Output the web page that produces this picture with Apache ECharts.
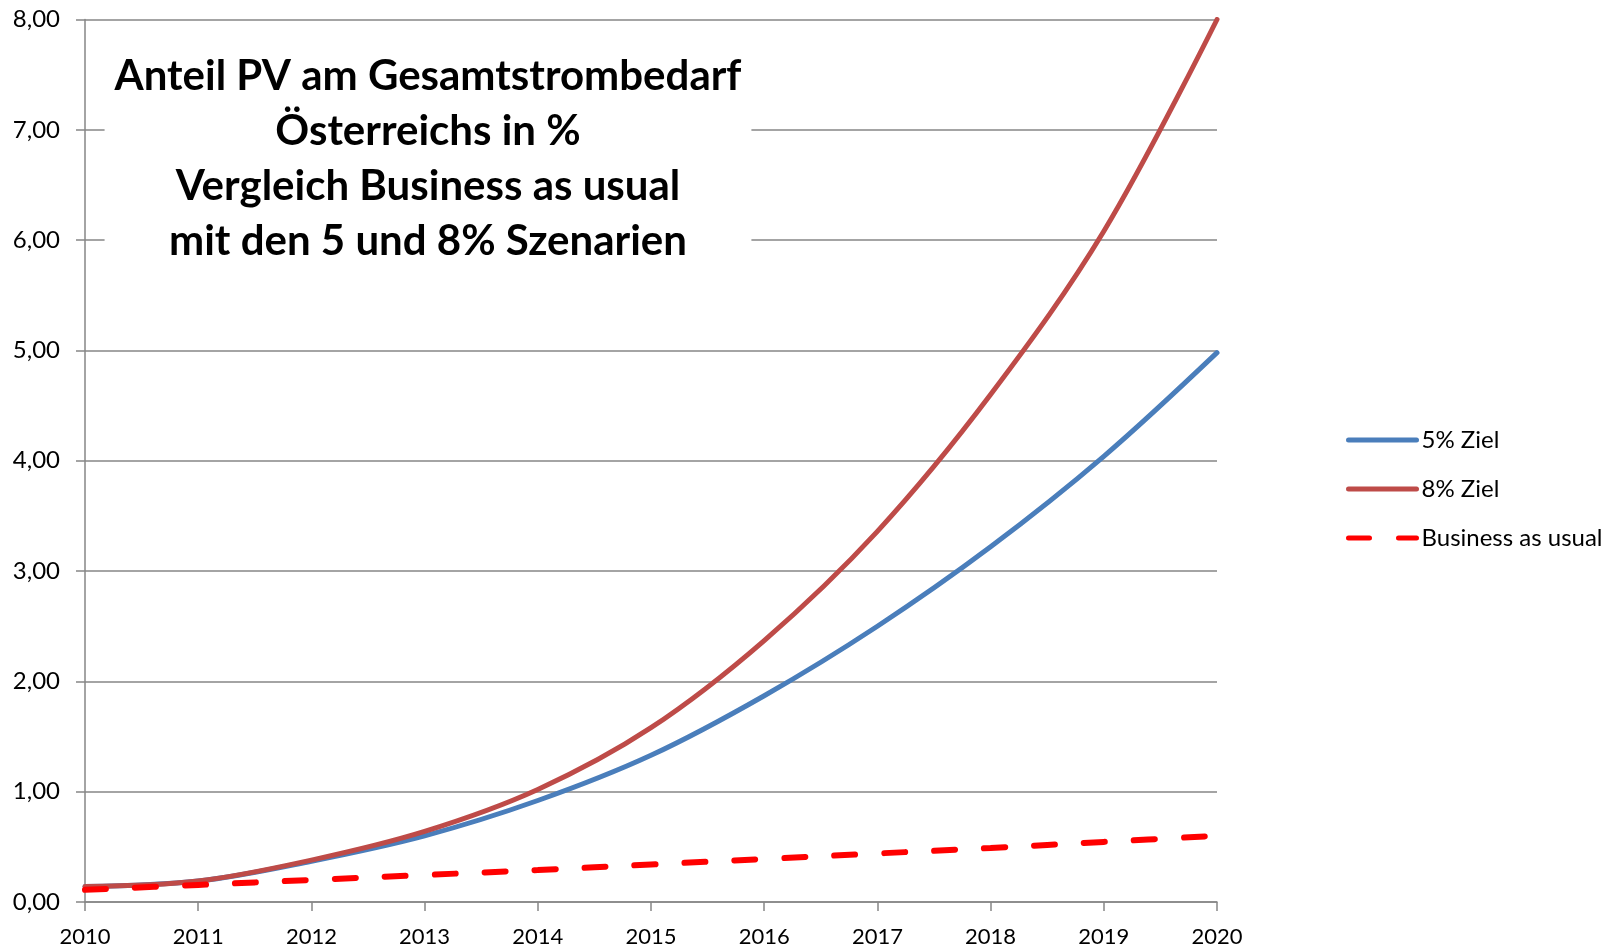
<!DOCTYPE html>
<html>
<head>
<meta charset="utf-8">
<script src="https://cdn.jsdelivr.net/npm/echarts@6/dist/echarts.min.js"></script>
<style>html,body{margin:0;padding:0;background:#fff}#c{width:1622px;height:952px}</style>
</head>
<body>
<div id="c"></div>
<script>
const years = ['2010','2011','2012','2013','2014','2015','2016','2017','2018','2019','2020'];
const ziel5 = [0.14, 0.19, 0.37, 0.60, 0.92, 1.33, 1.87, 2.50, 3.22, 4.04, 4.98];
const ziel8 = [0.14, 0.19, 0.38, 0.64, 1.02, 1.58, 2.37, 3.36, 4.60, 6.08, 8.00];
const bau   = [0.11, 0.155, 0.20, 0.245, 0.29, 0.34, 0.39, 0.44, 0.49, 0.545, 0.60];
const titleLines = ['Anteil PV am Gesamtstrombedarf', 'Österreichs in %', 'Vergleich Business as usual', 'mit den 5 und 8% Szenarien'];
const seriesNames = ['5% Ziel', '8% Ziel', 'Business as usual'];

const font = 'Lato, "Open Sans", sans-serif';
const chart = echarts.init(document.getElementById('c'));
chart.setOption({
  animation: false,
  backgroundColor: '#fff',
  title: {
    text: titleLines.join('\n'),
    left: 418, top: 43, textAlign: 'center',
    padding: [6, 10], backgroundColor: '#fff',
    textStyle: { fontFamily: font, fontSize: 42, fontWeight: 'bold', color: '#000', lineHeight: 55 }
  },
  legend: {
    orient: 'vertical', left: 1341, top: 423,
    itemWidth: 68, itemHeight: 20, itemGap: 25,
    itemStyle: { opacity: 0 },
    lineStyle: { width: 5 },
    textStyle: { fontFamily: font, fontSize: 24, color: '#000', padding: [0, 0, 0, 0] },
    data: seriesNames
  },
  grid: { left: 85, right: 405, top: 19.5, bottom: 50, containLabel: false },
  xAxis: {
    type: 'category', data: years, boundaryGap: false,
    axisLine: { lineStyle: { color: '#868686', width: 1.5 } },
    axisTick: { length: 9, lineStyle: { color: '#868686', width: 1.5 } },
    axisLabel: { fontFamily: font, fontSize: 22, color: '#000', margin: 24 },
    splitLine: { show: false }
  },
  yAxis: {
    type: 'value', min: 0, max: 8, interval: 1,
    axisLine: { show: true, lineStyle: { color: '#868686', width: 1.5 } },
    axisTick: { show: true, length: 9, lineStyle: { color: '#868686', width: 1.5 } },
    axisLabel: { fontFamily: font, fontSize: 24, color: '#000', margin: 25,
      formatter: v => v.toFixed(2).replace('.', ',') },
    splitLine: { lineStyle: { color: '#868686', width: 1.5 } }
  },
  series: [
    { name: seriesNames[0], type: 'line', data: ziel5, smooth: 0.35, symbol: 'none',
      lineStyle: { color: '#4A7EBB', width: 5, cap: 'round' }, itemStyle: { color: '#4A7EBB' }, z: 3 },
    { name: seriesNames[1], type: 'line', data: ziel8, smooth: 0.35, symbol: 'none',
      lineStyle: { color: '#BE4B48', width: 5, cap: 'round' }, itemStyle: { color: '#BE4B48' }, z: 4 },
    { name: seriesNames[2], type: 'line', data: bau, smooth: 0.35, symbol: 'none',
      lineStyle: { color: '#FF0000', width: 6, type: [21, 29], cap: 'round' }, itemStyle: { color: '#FF0000' }, z: 5 }
  ]
});
</script>
</body>
</html>
